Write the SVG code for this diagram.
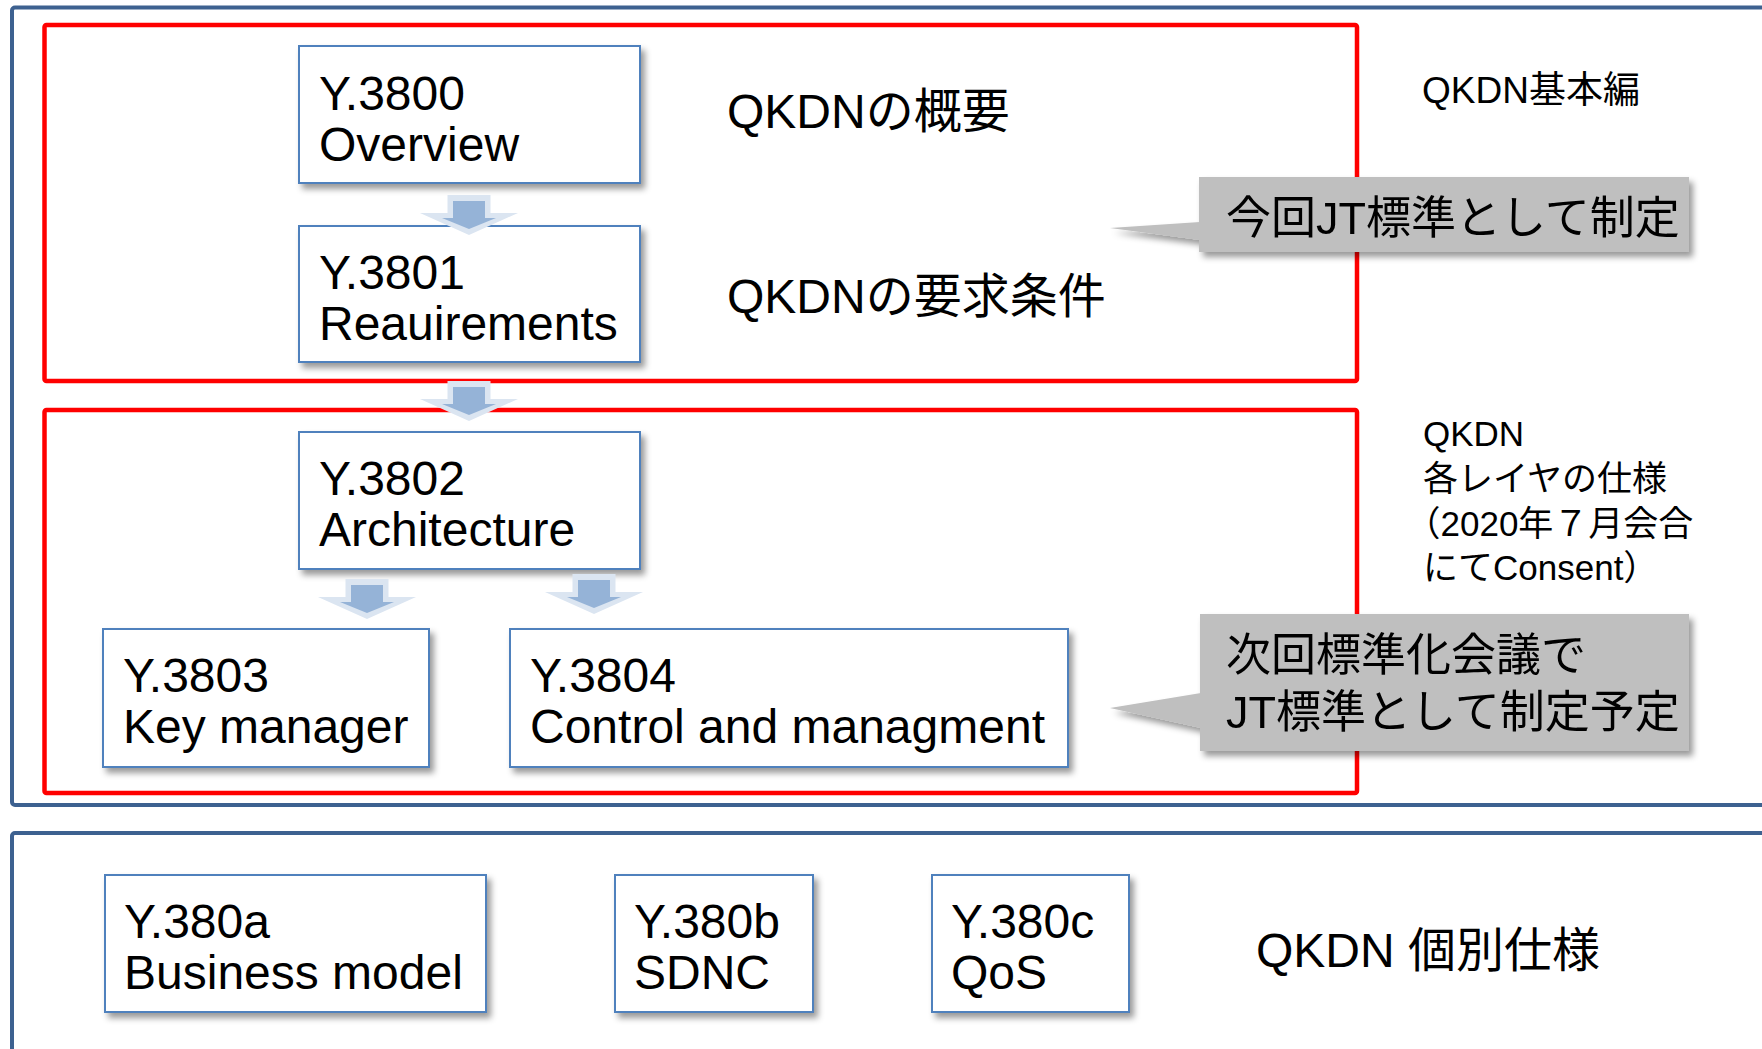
<svg xmlns="http://www.w3.org/2000/svg" width="1762" height="1049" viewBox="0 0 1762 1049">
<defs>
<style>
text{font-family:"Liberation Sans","Noto Sans CJK JP",sans-serif;fill:#000}
.frame{fill:none;stroke:#3d6190;stroke-width:4}
.red{fill:none;stroke:#ff0000;stroke-width:4.5}
.node{fill:#fff;stroke:#4f81bd;stroke-width:2}
.nt{font-size:48px}
.call{fill:#bfbfbf}
.ct{font-size:45px}
.side{font-size:35px}
.big{font-size:48px}
.aout{fill:#dbe5f1}
.ain{fill:#95b3d7}
</style>
<filter id="sh" x="-10%" y="-10%" width="130%" height="140%">
<feDropShadow dx="4" dy="5" stdDeviation="3" flood-color="#000" flood-opacity="0.4"/>
</filter>
<g id="arrow">
<polygon class="aout" points="-21.5,0 21.5,0 21.5,18 49,18 0,40 -49,18 -21.5,18"/>
<polygon class="ain" points="-16,6 16,6 16,23 27,23 0,34 -27,23 -16,23"/>
</g>
</defs>
<rect width="1762" height="1049" fill="#fff"/>
<g id="frame-top"><rect class="frame" x="12" y="7.5" width="1800" height="797.5" rx="3"/></g>
<g id="frame-bottom"><rect class="frame" x="12" y="833" width="1800" height="300" rx="3"/></g>
<g id="group-basic"><rect class="red" x="44.5" y="25" width="1312.5" height="356" rx="2"/></g>
<g id="group-layers"><rect class="red" x="44.5" y="410" width="1312.5" height="383" rx="2"/></g>

<g id="node-y3800">
<rect class="node" x="299" y="46" width="341" height="137" filter="url(#sh)"/>
<text class="nt" x="319" y="110">Y.3800</text>
<text class="nt" x="319" y="161">Overview</text>
</g>
<g id="node-y3801">
<rect class="node" x="299" y="226" width="341" height="136" filter="url(#sh)"/>
<text class="nt" x="319" y="289">Y.3801</text>
<text class="nt" x="319" y="340">Reauirements</text>
</g>
<g id="node-y3802">
<rect class="node" x="299" y="432" width="341" height="137" filter="url(#sh)"/>
<text class="nt" x="319" y="495">Y.3802</text>
<text class="nt" x="319" y="546">Architecture</text>
</g>
<g id="node-y3803">
<rect class="node" x="103" y="629" width="326" height="138" filter="url(#sh)"/>
<text class="nt" x="123" y="692">Y.3803</text>
<text class="nt" x="123" y="743">Key manager</text>
</g>
<g id="node-y3804">
<rect class="node" x="510" y="629" width="558" height="138" filter="url(#sh)"/>
<text class="nt" x="530" y="692">Y.3804</text>
<text class="nt" x="530" y="743">Control and managment</text>
</g>
<g id="node-y380a">
<rect class="node" x="105" y="875" width="381" height="137" filter="url(#sh)"/>
<text class="nt" x="124" y="938">Y.380a</text>
<text class="nt" x="124" y="989">Business model</text>
</g>
<g id="node-y380b">
<rect class="node" x="615" y="875" width="198" height="137" filter="url(#sh)"/>
<text class="nt" x="634" y="938">Y.380b</text>
<text class="nt" x="634" y="989">SDNC</text>
</g>
<g id="node-y380c">
<rect class="node" x="932" y="875" width="197" height="137" filter="url(#sh)"/>
<text class="nt" x="951" y="938">Y.380c</text>
<text class="nt" x="951" y="989">QoS</text>
</g>

<g id="connectors">
<use href="#arrow" x="469" y="195"/>
<use href="#arrow" x="469" y="381"/>
<use href="#arrow" x="367" y="579"/>
<use href="#arrow" x="594" y="574"/>
</g>

<g id="label-overview"><text class="big" x="727" y="128">QKDNの概要</text></g>
<g id="label-requirements"><text class="big" x="727" y="313">QKDNの要求条件</text></g>
<g id="label-basic"><text style="font-size:37px" x="1422" y="103">QKDN基本編</text></g>
<g id="label-layers">
<text class="side" x="1423" y="446">QKDN</text>
<text class="side" x="1423" y="491">各レイヤの仕様</text>
<text class="side" x="1405.5" y="536">（2020年７月会合</text>
<text class="side" x="1423" y="580">にてConsent）</text>
</g>
<g id="label-individual"><text class="big" x="1256" y="967">QKDN 個別仕様</text></g>

<g id="callout-1" filter="url(#sh)">
<polygon class="call" points="1200,222 1110,228 1200,240"/>
<rect class="call" x="1199" y="177" width="490" height="75"/>
<text class="ct" x="1226" y="234">今回JT標準として制定</text>
</g>
<g id="callout-2" filter="url(#sh)">
<polygon class="call" points="1201,693 1110,708 1201,728"/>
<rect class="call" x="1200" y="614" width="489" height="137"/>
<text class="ct" x="1226" y="671">次回標準化会議で</text>
<text class="ct" x="1226" y="728">JT標準として制定予定</text>
</g>
</svg>
